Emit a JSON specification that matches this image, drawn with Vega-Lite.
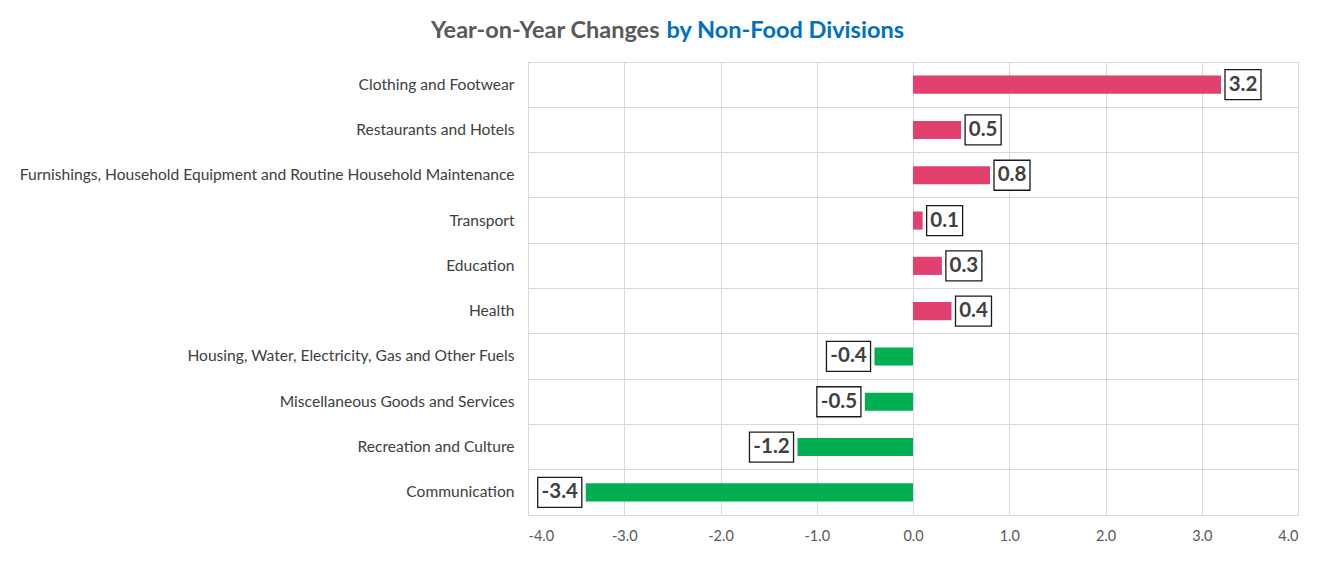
{
  "$schema": "https://vega.github.io/schema/vega-lite/v6.json",
  "width": 770,
  "height": 453,
  "autosize": {"type": "none"},
  "padding": {"left": 528, "top": 62, "right": 19, "bottom": 60},
  "background": "white",
  "config": {
    "font": "Lato",
    "view": {"stroke": "#d9d9d9", "strokeWidth": 1}
  },
  "data": {
    "values": [
      {"division": "Clothing and Footwear", "change": 3.2, "label": "3.2"},
      {"division": "Restaurants and Hotels", "change": 0.5, "label": "0.5"},
      {"division": "Furnishings, Household Equipment and Routine Household Maintenance", "change": 0.8, "label": "0.8"},
      {"division": "Transport", "change": 0.1, "label": "0.1"},
      {"division": "Education", "change": 0.3, "label": "0.3"},
      {"division": "Health", "change": 0.4, "label": "0.4"},
      {"division": "Housing, Water, Electricity, Gas and Other Fuels", "change": -0.4, "label": "-0.4"},
      {"division": "Miscellaneous Goods and Services", "change": -0.5, "label": "-0.5"},
      {"division": "Recreation and Culture", "change": -1.2, "label": "-1.2"},
      {"division": "Communication", "change": -3.4, "label": "-3.4"}
    ]
  },
  "encoding": {
    "y": {
      "field": "division",
      "type": "nominal",
      "sort": null,
      "scale": {"paddingInner": 0, "paddingOuter": 0},
      "axis": {
        "title": "Year-on-Year Changes",
        "titleAngle": 0,
        "titleX": 131,
        "titleY": -25,
        "titleAlign": "right",
        "titleBaseline": "alphabetic",
        "titleAnchor": null,
        "titleFont": "Lato",
        "titleFontSize": 23.5,
        "titleFontWeight": "bold",
        "titleColor": "#595959",
        "grid": true,
        "gridColor": "#d9d9d9",
        "bandPosition": 0,
        "ticks": false,
        "domain": false,
        "labelPadding": 14,
        "labelFontSize": 15.6,
        "labelColor": "#404040",
        "labelLimit": 0
      }
    },
    "x": {
      "field": "change",
      "type": "quantitative",
      "scale": {"domain": [-4, 4], "nice": false, "zero": false},
      "axis": {
        "title": "by Non-Food Divisions",
        "titleX": 138,
        "titleY": -478,
        "titleAlign": "left",
        "titleBaseline": "alphabetic",
        "titleAnchor": null,
        "titleFont": "Lato",
        "titleFontSize": 23.5,
        "titleFontWeight": "bold",
        "titleColor": "#0070C0",
        "values": [-4, -3, -2, -1, 0, 1, 2, 3, 4],
        "labelExpr": "replace(format(datum.value, '.1f'), '\u2212', '-')",
        "grid": true,
        "gridColor": "#d9d9d9",
        "ticks": false,
        "domain": false,
        "labelPadding": 14,
        "labelFontSize": 14.5,
        "labelColor": "#595959"
      }
    }
  },
  "layer": [
    {
      "mark": {"type": "bar", "height": {"band": 0.4}},
      "encoding": {
        "x2": {"datum": 0},
        "color": {
          "condition": {"test": "datum.change >= 0", "value": "#E2406F"},
          "value": "#00B050"
        }
      }
    },
    {
      "transform": [{"filter": "datum.change >= 0"}],
      "mark": {"type": "point", "shape": "M-1.2,-1H1.2V1H-1.2Z", "size": 900, "filled": true, "fill": "white", "stroke": "#1a1a1a", "strokeWidth": 1.3, "opacity": 1, "xOffset": 22}
    },
    {
      "transform": [{"filter": "datum.change < 0"}],
      "mark": {"type": "point", "shape": "M-1.47,-1H1.47V1H-1.47Z", "size": 900, "filled": true, "fill": "white", "stroke": "#1a1a1a", "strokeWidth": 1.3, "opacity": 1, "xOffset": -26}
    },
    {
      "transform": [{"filter": "datum.change >= 0"}],
      "mark": {"type": "text", "align": "center", "baseline": "middle", "dx": 22, "font": "Lato", "fontSize": 20.5, "fontWeight": "bold", "color": "#404040"},
      "encoding": {"text": {"field": "label"}}
    },
    {
      "transform": [{"filter": "datum.change < 0"}],
      "mark": {"type": "text", "align": "center", "baseline": "middle", "dx": -26, "font": "Lato", "fontSize": 20.5, "fontWeight": "bold", "color": "#404040"},
      "encoding": {"text": {"field": "label"}}
    }
  ]
}
